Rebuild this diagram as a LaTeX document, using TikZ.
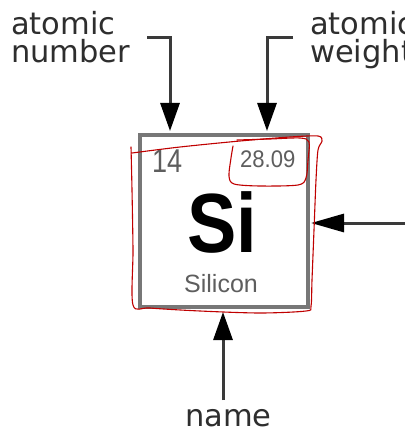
\documentclass[tikz,border=0pt]{standalone}
\usepackage{fontspec}
\setmainfont{Liberation Sans}
\newfontfamily\lblfont{DejaVu Sans}
\usetikzlibrary{arrows.meta}
\definecolor{shaft}{HTML}{3A3A3A}
\definecolor{lbl}{HTML}{2E2E2E}
\definecolor{boxgray}{HTML}{777777}
\definecolor{txtgray}{HTML}{5E5E5E}
\definecolor{pen}{HTML}{C00000}
\tikzset{
  lab/.style={anchor=base west, inner sep=0pt, text=lbl, font=\lblfont\fontsize{30.5}{30.5}\selectfont},
  conn/.style={draw=shaft, line width=3pt, -{Triangle[length=28pt,width=19pt,color=black]}},
  elem/.style={draw=boxgray, line width=4pt, minimum width=168pt, minimum height=172pt, inner sep=0pt},
  ink/.style={draw=pen, line width=1.1pt, line cap=round, line join=round}
}
\begin{document}
\begin{tikzpicture}[x=1pt,y=-1pt]
\useasboundingbox[fill=white] (0,0) rectangle (404,433);
% labels
\node[lab] (an1) at (11,35) {atomic};
\node[lab] (an2) at (11,63) {number};
\node[lab] (aw1) at (310,35) {atomic};
\node[lab] (aw2) at (310,63) {weight};
\node[lab] (nm) at (185,426) {name};
% element box
\node[elem] (box) at (224,221) {};
\node[anchor=base west, inner sep=0pt, text=txtgray, font=\fontsize{33}{33}\selectfont, xscale=0.82] (num) at (152,172) {14};
\node[anchor=base west, inner sep=0pt, text=txtgray, font=\fontsize{24}{24}\selectfont, xscale=0.92] (wt) at (240,167) {28.09};
\node[anchor=base, inner sep=0pt, font=\bfseries\fontsize{84}{84}\selectfont, xscale=0.88] (sym) at (222,252) {Si};
\node[anchor=base, inner sep=0pt, text=txtgray, font=\fontsize{25}{25}\selectfont] (nmtxt) at (221,292) {Silicon};
% connector points
\coordinate (b1) at (147,38);
\coordinate (c1) at (170,38);
\coordinate (t1) at (170,131);
\coordinate (b2) at (293,38);
\coordinate (c2) at (267,38);
\coordinate (t2) at (267,131);
\coordinate (s3) at (223,400);
\coordinate (t3) at (223,312);
\coordinate (s4) at (410,223);
\coordinate (t4) at (311,223);
\draw[conn] (b1) -- (c1) -- (t1);
\draw[conn] (b2) -- (c2) -- (t2);
\draw[conn] (s3) -- (t3);
\draw[conn, -{Triangle[length=33pt,width=18pt,color=black]}] (s4) -- (t4);
% red hand annotations
\draw[ink] plot[smooth] coordinates {(132,153) (180,147) (240,141) (290,137) (318,136) (322,141) (318,150) (316,180) (314,230) (312,280) (311,306) (306,311) (260,313) (200,311) (150,308) (133,305) (133,250) (132,190) (131,147)};
\draw[ink] plot[smooth] coordinates {(237,140) (270,139) (300,138) (309,142) (308,160) (306,178) (298,185) (260,186) (234,184) (229,176) (231,158) (233,146)};
\end{tikzpicture}
\end{document}
